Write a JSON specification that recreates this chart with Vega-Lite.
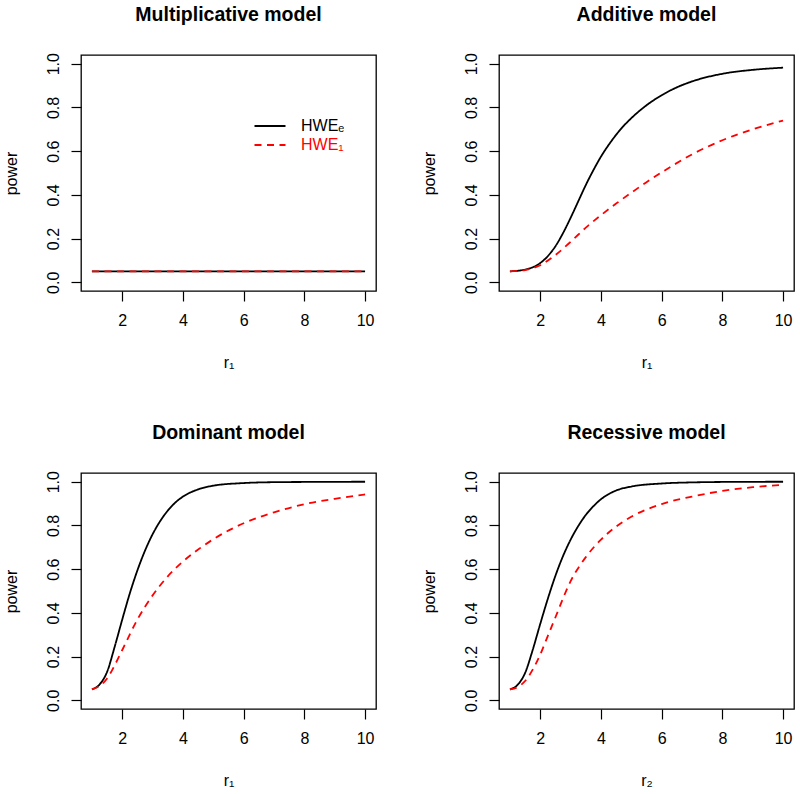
{
  "$schema": "https://vega.github.io/schema/vega-lite/v6.json",
  "background": "white",
  "padding": {"left": 2, "top": 4, "right": 5, "bottom": 5},
  "bounds": "flush",
  "spacing": {"row": 182, "column": 123},
  "columns": 2,
  "config": {
    "font": "Liberation Sans",
    "view": {"stroke": "black", "strokeWidth": 1.3},
    "axis": {"domain": false, "grid": false, "tickColor": "black", "tickSize": 10, "tickWidth": 1.2, "labelFont": "Liberation Sans", "labelFontSize": 16, "labelColor": "black", "titleFont": "Liberation Sans", "titleFontSize": 16, "titleFontWeight": "normal", "titleColor": "black", "labelFlush": false, "labelOverlap": false},
    "axisX": {"labelPadding": 11, "titlePadding": 26},
    "axisY": {"labelAngle": -90, "labelPadding": 10, "titlePadding": 26},
    "title": {"fontSize": 19.5, "fontWeight": "bold", "font": "Liberation Sans", "color": "black", "offset": 27, "anchor": "middle", "frame": "group"},
    "line": {"strokeWidth": 1.8, "interpolate": "monotone"}
  },
  "resolve": {
    "scale": {"color": "independent", "strokeDash": "independent"},
    "legend": {"color": "independent", "strokeDash": "independent"}
  },
  "datasets": {
    "curves": [
      {"model": "Multiplicative", "method": "HWEₑ", "r": 1, "power": 0.05},
      {"model": "Multiplicative", "method": "HWEₑ", "r": 4, "power": 0.05},
      {"model": "Multiplicative", "method": "HWEₑ", "r": 7, "power": 0.05},
      {"model": "Multiplicative", "method": "HWEₑ", "r": 10, "power": 0.05},
      {"model": "Multiplicative", "method": "HWE₁", "r": 1, "power": 0.05},
      {"model": "Multiplicative", "method": "HWE₁", "r": 4, "power": 0.05},
      {"model": "Multiplicative", "method": "HWE₁", "r": 7, "power": 0.05},
      {"model": "Multiplicative", "method": "HWE₁", "r": 10, "power": 0.05},

      {"model": "Additive", "method": "HWEₑ", "r": 1, "power": 0.05},
      {"model": "Additive", "method": "HWEₑ", "r": 1.5, "power": 0.058},
      {"model": "Additive", "method": "HWEₑ", "r": 2, "power": 0.088},
      {"model": "Additive", "method": "HWEₑ", "r": 2.25, "power": 0.12},
      {"model": "Additive", "method": "HWEₑ", "r": 2.5, "power": 0.165},
      {"model": "Additive", "method": "HWEₑ", "r": 2.75, "power": 0.225},
      {"model": "Additive", "method": "HWEₑ", "r": 3, "power": 0.295},
      {"model": "Additive", "method": "HWEₑ", "r": 3.25, "power": 0.37},
      {"model": "Additive", "method": "HWEₑ", "r": 3.5, "power": 0.445},
      {"model": "Additive", "method": "HWEₑ", "r": 3.75, "power": 0.513},
      {"model": "Additive", "method": "HWEₑ", "r": 4, "power": 0.575},
      {"model": "Additive", "method": "HWEₑ", "r": 4.25, "power": 0.628},
      {"model": "Additive", "method": "HWEₑ", "r": 4.5, "power": 0.675},
      {"model": "Additive", "method": "HWEₑ", "r": 4.75, "power": 0.716},
      {"model": "Additive", "method": "HWEₑ", "r": 5, "power": 0.751},
      {"model": "Additive", "method": "HWEₑ", "r": 5.5, "power": 0.81},
      {"model": "Additive", "method": "HWEₑ", "r": 6, "power": 0.856},
      {"model": "Additive", "method": "HWEₑ", "r": 6.5, "power": 0.892},
      {"model": "Additive", "method": "HWEₑ", "r": 7, "power": 0.919},
      {"model": "Additive", "method": "HWEₑ", "r": 8, "power": 0.954},
      {"model": "Additive", "method": "HWEₑ", "r": 9, "power": 0.972},
      {"model": "Additive", "method": "HWEₑ", "r": 10, "power": 0.982},
      {"model": "Additive", "method": "HWE₁", "r": 1, "power": 0.05},
      {"model": "Additive", "method": "HWE₁", "r": 1.5, "power": 0.056},
      {"model": "Additive", "method": "HWE₁", "r": 2, "power": 0.078},
      {"model": "Additive", "method": "HWE₁", "r": 2.5, "power": 0.125},
      {"model": "Additive", "method": "HWE₁", "r": 3, "power": 0.185},
      {"model": "Additive", "method": "HWE₁", "r": 3.5, "power": 0.25},
      {"model": "Additive", "method": "HWE₁", "r": 4, "power": 0.307},
      {"model": "Additive", "method": "HWE₁", "r": 4.5, "power": 0.36},
      {"model": "Additive", "method": "HWE₁", "r": 5, "power": 0.41},
      {"model": "Additive", "method": "HWE₁", "r": 5.5, "power": 0.458},
      {"model": "Additive", "method": "HWE₁", "r": 6, "power": 0.503},
      {"model": "Additive", "method": "HWE₁", "r": 7, "power": 0.585},
      {"model": "Additive", "method": "HWE₁", "r": 8, "power": 0.65},
      {"model": "Additive", "method": "HWE₁", "r": 9, "power": 0.70},
      {"model": "Additive", "method": "HWE₁", "r": 10, "power": 0.74},

      {"model": "Dominant", "method": "HWEₑ", "r": 1, "power": 0.05},
      {"model": "Dominant", "method": "HWEₑ", "r": 1.25, "power": 0.072},
      {"model": "Dominant", "method": "HWEₑ", "r": 1.5, "power": 0.13},
      {"model": "Dominant", "method": "HWEₑ", "r": 1.75, "power": 0.245},
      {"model": "Dominant", "method": "HWEₑ", "r": 2, "power": 0.37},
      {"model": "Dominant", "method": "HWEₑ", "r": 2.25, "power": 0.49},
      {"model": "Dominant", "method": "HWEₑ", "r": 2.5, "power": 0.595},
      {"model": "Dominant", "method": "HWEₑ", "r": 2.75, "power": 0.685},
      {"model": "Dominant", "method": "HWEₑ", "r": 3, "power": 0.76},
      {"model": "Dominant", "method": "HWEₑ", "r": 3.25, "power": 0.82},
      {"model": "Dominant", "method": "HWEₑ", "r": 3.5, "power": 0.868},
      {"model": "Dominant", "method": "HWEₑ", "r": 3.75, "power": 0.905},
      {"model": "Dominant", "method": "HWEₑ", "r": 4, "power": 0.932},
      {"model": "Dominant", "method": "HWEₑ", "r": 4.5, "power": 0.965},
      {"model": "Dominant", "method": "HWEₑ", "r": 5, "power": 0.982},
      {"model": "Dominant", "method": "HWEₑ", "r": 6, "power": 0.994},
      {"model": "Dominant", "method": "HWEₑ", "r": 7, "power": 0.998},
      {"model": "Dominant", "method": "HWEₑ", "r": 8, "power": 0.999},
      {"model": "Dominant", "method": "HWEₑ", "r": 10, "power": 1.0},
      {"model": "Dominant", "method": "HWE₁", "r": 1, "power": 0.05},
      {"model": "Dominant", "method": "HWE₁", "r": 1.25, "power": 0.065},
      {"model": "Dominant", "method": "HWE₁", "r": 1.5, "power": 0.10},
      {"model": "Dominant", "method": "HWE₁", "r": 1.75, "power": 0.16},
      {"model": "Dominant", "method": "HWE₁", "r": 2, "power": 0.23},
      {"model": "Dominant", "method": "HWE₁", "r": 2.5, "power": 0.37},
      {"model": "Dominant", "method": "HWE₁", "r": 3, "power": 0.48},
      {"model": "Dominant", "method": "HWE₁", "r": 3.5, "power": 0.567},
      {"model": "Dominant", "method": "HWE₁", "r": 4, "power": 0.635},
      {"model": "Dominant", "method": "HWE₁", "r": 4.5, "power": 0.69},
      {"model": "Dominant", "method": "HWE₁", "r": 5, "power": 0.737},
      {"model": "Dominant", "method": "HWE₁", "r": 6, "power": 0.81},
      {"model": "Dominant", "method": "HWE₁", "r": 7, "power": 0.86},
      {"model": "Dominant", "method": "HWE₁", "r": 8, "power": 0.897},
      {"model": "Dominant", "method": "HWE₁", "r": 9, "power": 0.922},
      {"model": "Dominant", "method": "HWE₁", "r": 10, "power": 0.942},

      {"model": "Recessive", "method": "HWEₑ", "r": 1, "power": 0.05},
      {"model": "Recessive", "method": "HWEₑ", "r": 1.25, "power": 0.07},
      {"model": "Recessive", "method": "HWEₑ", "r": 1.5, "power": 0.125},
      {"model": "Recessive", "method": "HWEₑ", "r": 1.75, "power": 0.23},
      {"model": "Recessive", "method": "HWEₑ", "r": 2, "power": 0.35},
      {"model": "Recessive", "method": "HWEₑ", "r": 2.25, "power": 0.465},
      {"model": "Recessive", "method": "HWEₑ", "r": 2.5, "power": 0.57},
      {"model": "Recessive", "method": "HWEₑ", "r": 2.75, "power": 0.66},
      {"model": "Recessive", "method": "HWEₑ", "r": 3, "power": 0.735},
      {"model": "Recessive", "method": "HWEₑ", "r": 3.25, "power": 0.797},
      {"model": "Recessive", "method": "HWEₑ", "r": 3.5, "power": 0.848},
      {"model": "Recessive", "method": "HWEₑ", "r": 3.75, "power": 0.888},
      {"model": "Recessive", "method": "HWEₑ", "r": 4, "power": 0.92},
      {"model": "Recessive", "method": "HWEₑ", "r": 4.25, "power": 0.943},
      {"model": "Recessive", "method": "HWEₑ", "r": 4.5, "power": 0.96},
      {"model": "Recessive", "method": "HWEₑ", "r": 5, "power": 0.978},
      {"model": "Recessive", "method": "HWEₑ", "r": 6, "power": 0.992},
      {"model": "Recessive", "method": "HWEₑ", "r": 7, "power": 0.997},
      {"model": "Recessive", "method": "HWEₑ", "r": 8, "power": 0.999},
      {"model": "Recessive", "method": "HWEₑ", "r": 10, "power": 1.0},
      {"model": "Recessive", "method": "HWE₁", "r": 1, "power": 0.05},
      {"model": "Recessive", "method": "HWE₁", "r": 1.25, "power": 0.06},
      {"model": "Recessive", "method": "HWE₁", "r": 1.5, "power": 0.088},
      {"model": "Recessive", "method": "HWE₁", "r": 1.75, "power": 0.14},
      {"model": "Recessive", "method": "HWE₁", "r": 2, "power": 0.21},
      {"model": "Recessive", "method": "HWE₁", "r": 2.25, "power": 0.295},
      {"model": "Recessive", "method": "HWE₁", "r": 2.5, "power": 0.38},
      {"model": "Recessive", "method": "HWE₁", "r": 3, "power": 0.545},
      {"model": "Recessive", "method": "HWE₁", "r": 3.5, "power": 0.655},
      {"model": "Recessive", "method": "HWE₁", "r": 4, "power": 0.735},
      {"model": "Recessive", "method": "HWE₁", "r": 4.5, "power": 0.795},
      {"model": "Recessive", "method": "HWE₁", "r": 5, "power": 0.84},
      {"model": "Recessive", "method": "HWE₁", "r": 6, "power": 0.898},
      {"model": "Recessive", "method": "HWE₁", "r": 7, "power": 0.932},
      {"model": "Recessive", "method": "HWE₁", "r": 8, "power": 0.958},
      {"model": "Recessive", "method": "HWE₁", "r": 9, "power": 0.975},
      {"model": "Recessive", "method": "HWE₁", "r": 10, "power": 0.986}
    ]
  },
  "concat": [
    {
      "title": "Multiplicative model",
      "width": 295, "height": 236,
      "data": {"name": "curves"},
      "transform": [{"filter": "datum.model == 'Multiplicative'"}],
      "mark": {"type": "line"},
      "encoding": {
        "x": {"field": "r", "type": "quantitative", "scale": {"domain": [0.64, 10.36], "nice": false, "zero": false}, "axis": {"title": "r₁", "values": [2, 4, 6, 8, 10]}},
        "y": {"field": "power", "type": "quantitative", "scale": {"domain": [-0.04, 1.04], "nice": false, "zero": false}, "axis": {"title": "power", "values": [0, 0.2, 0.4, 0.6, 0.8, 1], "format": ".1f"}},
        "color": {"field": "method", "type": "nominal", "scale": {"domain": ["HWEₑ", "HWE₁"], "range": ["black", "red"]},
          "legend": {"orient": "none", "legendX": 178, "legendY": 60, "title": null, "symbolType": "M-1.55,0H1.55", "symbolSize": 400, "symbolStrokeWidth": 1.8, "symbolFillColor": "transparent", "labelFontSize": 16, "labelFont": "Liberation Sans", "labelOffset": 20, "rowPadding": 0, "padding": 0, "labelColor": {"expr": "datum.label == 'HWE₁' ? 'red' : 'black'"}}},
        "strokeDash": {"field": "method", "type": "nominal", "scale": {"domain": ["HWEₑ", "HWE₁"], "range": [[1, 0], [7, 5.5]]},
          "legend": {"orient": "none", "legendX": 178, "legendY": 60, "title": null, "symbolType": "M-1.55,0H1.55", "symbolSize": 400, "symbolStrokeWidth": 1.8, "symbolFillColor": "transparent", "labelFontSize": 16, "labelFont": "Liberation Sans", "labelOffset": 20, "rowPadding": 0, "padding": 0, "labelColor": {"expr": "datum.label == 'HWE₁' ? 'red' : 'black'"}}}
      }
    },
    {
      "title": "Additive model",
      "width": 295, "height": 236,
      "data": {"name": "curves"},
      "transform": [{"filter": "datum.model == 'Additive'"}],
      "mark": {"type": "line"},
      "encoding": {
        "x": {"field": "r", "type": "quantitative", "scale": {"domain": [0.64, 10.36], "nice": false, "zero": false}, "axis": {"title": "r₁", "values": [2, 4, 6, 8, 10]}},
        "y": {"field": "power", "type": "quantitative", "scale": {"domain": [-0.04, 1.04], "nice": false, "zero": false}, "axis": {"title": "power", "values": [0, 0.2, 0.4, 0.6, 0.8, 1], "format": ".1f"}},
        "color": {"field": "method", "type": "nominal", "scale": {"domain": ["HWEₑ", "HWE₁"], "range": ["black", "red"]}, "legend": null},
        "strokeDash": {"field": "method", "type": "nominal", "scale": {"domain": ["HWEₑ", "HWE₁"], "range": [[1, 0], [7, 5.5]]}, "legend": null}
      }
    },
    {
      "title": "Dominant model",
      "width": 295, "height": 236,
      "data": {"name": "curves"},
      "transform": [{"filter": "datum.model == 'Dominant'"}],
      "mark": {"type": "line"},
      "encoding": {
        "x": {"field": "r", "type": "quantitative", "scale": {"domain": [0.64, 10.36], "nice": false, "zero": false}, "axis": {"title": "r₁", "values": [2, 4, 6, 8, 10]}},
        "y": {"field": "power", "type": "quantitative", "scale": {"domain": [-0.04, 1.04], "nice": false, "zero": false}, "axis": {"title": "power", "values": [0, 0.2, 0.4, 0.6, 0.8, 1], "format": ".1f"}},
        "color": {"field": "method", "type": "nominal", "scale": {"domain": ["HWEₑ", "HWE₁"], "range": ["black", "red"]}, "legend": null},
        "strokeDash": {"field": "method", "type": "nominal", "scale": {"domain": ["HWEₑ", "HWE₁"], "range": [[1, 0], [7, 5.5]]}, "legend": null}
      }
    },
    {
      "title": "Recessive model",
      "width": 295, "height": 236,
      "data": {"name": "curves"},
      "transform": [{"filter": "datum.model == 'Recessive'"}],
      "mark": {"type": "line"},
      "encoding": {
        "x": {"field": "r", "type": "quantitative", "scale": {"domain": [0.64, 10.36], "nice": false, "zero": false}, "axis": {"title": "r₂", "values": [2, 4, 6, 8, 10]}},
        "y": {"field": "power", "type": "quantitative", "scale": {"domain": [-0.04, 1.04], "nice": false, "zero": false}, "axis": {"title": "power", "values": [0, 0.2, 0.4, 0.6, 0.8, 1], "format": ".1f"}},
        "color": {"field": "method", "type": "nominal", "scale": {"domain": ["HWEₑ", "HWE₁"], "range": ["black", "red"]}, "legend": null},
        "strokeDash": {"field": "method", "type": "nominal", "scale": {"domain": ["HWEₑ", "HWE₁"], "range": [[1, 0], [7, 5.5]]}, "legend": null}
      }
    }
  ]
}
